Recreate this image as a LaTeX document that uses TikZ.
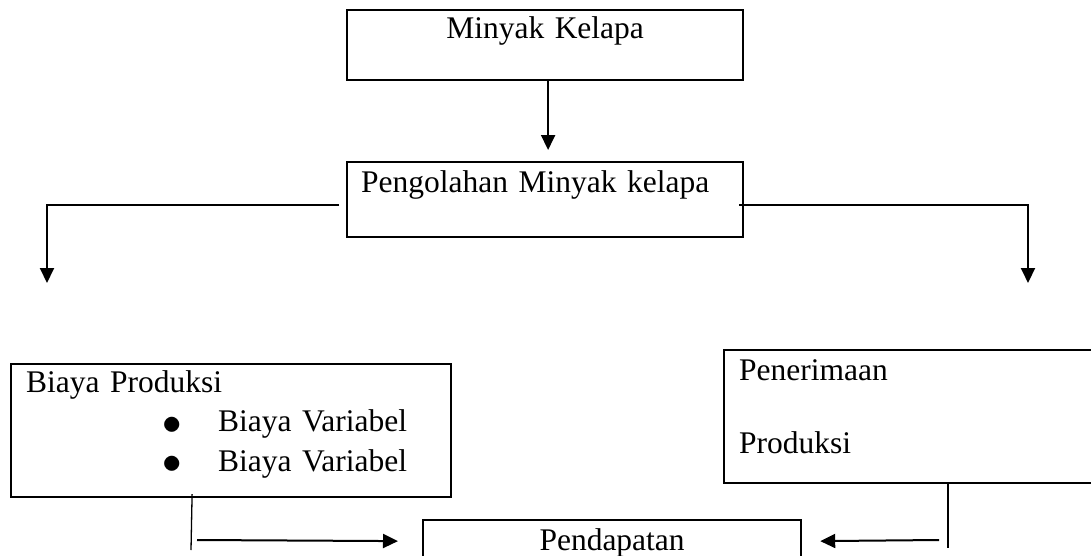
\documentclass[tikz,border=0pt]{standalone}
\usepackage{fontspec}
\usepackage{graphicx}
\setmainfont{Liberation Serif}
\usetikzlibrary{arrows.meta}

\newcommand{\butir}{\hspace*{68pt}\makebox[28pt][l]{\raisebox{-1.4pt}{\scalebox{1.35}{$\bullet$}}}}

\begin{document}
\begin{tikzpicture}[x=0.5pt, y=-0.5pt, every node/.style={font=\fontsize{15.75pt}{19.75pt}\selectfont},
    kotak/.style={draw, line width=1.1pt, inner ysep=0pt, anchor=north west},
    panah/.style={-{Triangle[length=7.5pt,width=7pt]}, line width=1pt},
    garis/.style={line width=0.65pt}]
			\useasboundingbox (0,0) rectangle (1091,556);
			\node[kotak, inner xsep=0pt, text width=198pt, align=center, text height=14pt, text depth=21pt] (minyak) at (346,9) {Minyak Kelapa};
			\node[kotak, inner xsep=7pt, text width=184pt, align=left, text height=15pt, text depth=22.5pt] (olah) at (346,161) {Pengolahan Minyak kelapa};
			\node[kotak, inner xsep=7.5pt, text width=205pt, align=left, text height=14pt, text depth=52.5pt] (biaya) at (10,363) {Biaya Produksi\\ \butir Biaya Variabel\\ \butir Biaya Variabel};
			\node[kotak, inner xsep=7.5pt, text width=178.5pt, align=left, text height=15pt, text depth=51.5pt] (terima) at (723,349) {Penerimaan\\[16.75pt]Produksi};
			\node[kotak, inner xsep=0pt, text width=189pt, align=center, text height=15pt, text depth=20pt] (dapat) at (422,519) {Pendapatan};
			
			\coordinate (ujungKiri) at (47,283);
			\coordinate (ujungKanan) at (1028,283);
			\coordinate (dasarKiri) at (191,550);
			\coordinate (dasarKanan) at (948,548);
			\coordinate (awalKiri) at (197,540);
			\coordinate (awalKanan) at (939,540);
			
			\draw[panah] ([xshift=1.5pt]minyak.south) -- ([xshift=1.5pt,yshift=5.5pt]olah.north);
			\draw[panah] ([xshift=-3.5pt,yshift=-2.75pt]olah.west) -| (ujungKiri);
			\draw[panah] ([xshift=-2.5pt,yshift=-2.75pt]olah.east) -| (ujungKanan);
			\draw[garis] ([xshift=-19.5pt,yshift=2pt]biaya.south) -- (dasarKiri);
			\draw[garis] ([xshift=112.5pt]terima.south west) -- (dasarKanan);
			\draw[panah] (awalKiri) -- ([xshift=-12pt,yshift=7pt]dapat.west);
			\draw[panah] (awalKanan) -- ([xshift=9pt,yshift=7pt]dapat.east);
		\end{tikzpicture}
\end{document}
